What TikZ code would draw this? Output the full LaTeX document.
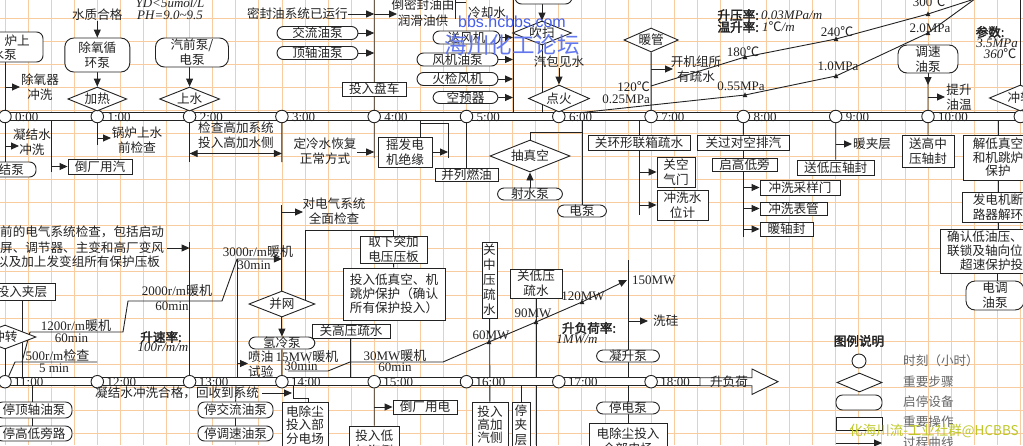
\documentclass[tikz,border=0pt]{standalone}
\usepackage{fontspec}
\setmainfont{Liberation Serif}
\newfontfamily\cjk{Noto Sans CJK SC}
\newfontfamily\hei[FakeBold=2.5]{Noto Sans CJK SC}
\newfontfamily\wsans{Liberation Sans}
\usetikzlibrary{arrows.meta,shapes.geometric,backgrounds}
\definecolor{gridc}{RGB}{248,204,158}
\definecolor{ink}{RGB}{35,35,35}
\definecolor{wm}{RGB}{70,95,235}
\definecolor{wmy}{RGB}{190,200,40}
\newcommand{\fsz}{\fontsize{12.6}{15}\selectfont}
\newcommand{\tmf}{\rmfamily\fontsize{13}{15}\selectfont}
\newcommand{\mkr}[2]{\fill[ink] (#1-2.3,#2+2) -- (#1+2.3,#2+2) -- (#1,#2-2.6) -- cycle;}
\begin{document}
\begin{tikzpicture}[x=1pt,y=-1pt,
 ln/.style={line width=0.9pt, draw=ink},
 arr/.style={line width=0.9pt, draw=ink, -{Triangle[length=8pt,width=7pt]}},
 darr/.style={line width=0.9pt, draw=ink, {Triangle[length=8pt,width=7pt]}-{Triangle[length=8pt,width=7pt]}},
 txt/.style={inner sep=0pt, font=\cjk\fsz, align=center, text=ink},
 box/.style={txt, line width=0.9pt, draw=ink, fill=white},
 rbox/.style={box, rounded corners=6.5pt},
 dia/.style={box, diamond, shape aspect=2.5},
 tc/.style={circle, line width=0.9pt, draw=ink, fill=white, minimum size=12.5pt, inner sep=0pt},
 tl/.style={inner sep=0pt, font=\tmf, text=ink, anchor=base west},
 lat/.style={inner sep=0pt, font=\tmf, text=ink},
 ita/.style={inner sep=0pt, font=\tmf\itshape, text=ink},
 bld/.style={inner sep=0pt, font=\hei\fsz, text=ink},
 lgt/.style={txt, anchor=west, text=black!60}
]
\useasboundingbox (0,0) rectangle (1023,445);
\clip (0,0) rectangle (1023,445);
\begin{scope}[on background layer]
\fill[white] (0,0) rectangle (1023,445);
\foreach \k in {0,...,44} \draw[gridc, line width=0.8pt] ({5+23.075*\k},0) -- ({5+23.075*\k},445);
\foreach \k in {0,...,19} \draw[gridc, line width=0.8pt] (0,{18+23.075*\k}) -- (1023,{18+23.075*\k});
\end{scope}

% ---------- axes ----------
\fill[white] (-5,112.5) rectangle (1030,120.5);
\draw[ln] (-5,112.5) -- (1030,112.5) (-5,120.5) -- (1030,120.5);
\foreach \h in {0,...,11} \node[tc] (t\h) at ({5+92.3*\h},116.5) {};
\foreach \h in {0,...,10} \node[tl] at ({15+92.3*\h},121.3) {\h:00};

\fill[white] (-5,377.7) rectangle (700,385.7);
\draw[ln] (-5,377.7) -- (700,377.7) (-5,385.7) -- (700,385.7);
\draw[ln, fill=white] (700,377.7) -- (752,377.7) -- (752,369) -- (778,381.7) -- (752,394.4) -- (752,385.7) -- (700,385.7) -- cycle;
\node[txt] (sfh) at (729,381.7) {升负荷};
\foreach \h/\k in {11/0,12/1,13/2,14/3,15/4,16/5,17/6,18/7} \node[tc] (b\h) at ({5+92.3*\k},381.7) {};
\foreach \h/\k in {11/0,12/1,13/2,14/3,15/4,16/5,17/6,18/7} \node[tl] at ({14+92.3*\k},386.5) {\h:00};

% ---------- top section ----------
\node[rbox, minimum width=83pt, minimum height=30pt] (lsb) at (1.5,47) {};
\node[txt, anchor=east] (lsbt1) at (30,41) {炉上};
\node[txt, anchor=east] (lsbt2) at (17,55) {水泵};
\node[txt] (cyq) at (40,87) {除氧器\\冲洗};

\node[txt] (szhg) at (97.3,15) {水质合格};
\node[rbox, minimum width=65pt, minimum height=34pt, rounded corners=9pt] (cyxh) at (97.3,55) {除氧循\\环泵};
\node[dia, minimum width=59pt, minimum height=24pt] (jr) at (97.3,99) {加热};
\node[ita] (yd) at (170,3) {YD<5umol/L};
\node[ita] (ph) at (170,15) {PH=9.0\textasciitilde 9.5};
\node[rbox, minimum width=73pt, minimum height=29pt, rounded corners=9pt] (qqb) at (192,52.5) {汽前泵/\\电泵};
\node[dia, minimum width=60pt, minimum height=24pt] (ss) at (189.6,99) {上水};

\node[txt, anchor=east] (mfy) at (348,14) {密封油系统已运行};
\node[txt, font=\cjk\fontsize{12.6}{16}\selectfont] (dmf) at (423,13) {倒密封油由\\润滑油供};
\node[rbox, minimum width=81pt, minimum height=13pt] (jlyb) at (317.5,33) {交流油泵};
\node[rbox, minimum width=81pt, minimum height=13pt] (dzyb) at (317.5,53) {顶轴油泵};
\node[box, minimum width=64pt, minimum height=14pt] (trpc) at (374.2,89) {投入盘车};
\node[txt, anchor=west] (lqs) at (468,13) {冷却水};

\node[rbox, minimum width=67pt, minimum height=13pt] (sfj) at (466.5,37.5) {送风机};
\node[rbox, minimum width=81pt, minimum height=13pt] (fjyb) at (457.5,59.5) {风机油泵};
\node[rbox, minimum width=81pt, minimum height=13pt] (hjfj) at (457.5,79) {火检风机};
\node[rbox, minimum width=65pt, minimum height=12pt] (kyq) at (465.5,97.5) {空预器};
\node[rbox, minimum width=57pt, minimum height=14pt] (topb) at (543.5,-3) {};
\node[dia, minimum width=59pt, minimum height=24pt] (cs) at (542,33) {吹扫};
\node[txt] (qbjs) at (559,62) {汽包见水};
\node[dia, minimum width=61pt, minimum height=27pt] (dh) at (559,98.5) {点火};

\node[dia, minimum width=54pt, minimum height=24pt] (ng) at (651.1,40) {暖管};
\node[txt] (kjz) at (696,69) {开机组所\\有疏水};

\node[lat, anchor=east] (l120) at (650,87) {120{\cjk ℃}};
\node[lat, anchor=east] (l025) at (650,99.5) {0.25MPa};
\node[lat] (l180) at (743,52) {180{\cjk ℃}};
\node[lat] (l055) at (741,86) {0.55MPa};
\node[lat] (l240) at (837,32) {240{\cjk ℃}};
\node[lat] (l10) at (838,66) {1.0MPa};
\node[lat] (l300) at (929,2) {300{\cjk ℃}};
\node[lat] (l20) at (930,28) {2.0MPa};

\node[bld, anchor=east] (syl) at (759,15) {升压率:};
\node[ita, anchor=west] (syv) at (761,15) {0.03MPa/m};
\node[bld, anchor=east] (wsl) at (759,27) {温升率:};
\node[ita, anchor=west] (wsv) at (762,27) {1{\cjk ℃}/m};

\node[rbox, minimum width=60pt, minimum height=28pt, rounded corners=9pt] (tsyb) at (928,59) {调速\\油泵};
\node[txt] (tsyw) at (959,97) {提升\\油温};
\node[bld] (cshu) at (990,32) {参数:};
\node[ita] (c35) at (997,43) {3.5MPa};
\node[ita] (c360) at (1000,54) {360{\cjk ℃}};
\node[dia, minimum width=62pt, minimum height=26pt] (cz1) at (1020.3,98) {冲转};

% ---------- below top axis ----------
\node[rbox, minimum width=62pt, minimum height=15pt] (njb) at (5,169.5) {凝结泵};
\node[txt] (njs) at (32,142) {凝结水\\冲洗};
\node[box, minimum width=64pt, minimum height=15pt] (dcyq) at (100,166.5) {倒厂用汽};
\node[txt] (glss) at (137,140) {锅炉上水\\前检查};
\node[txt] (jcgj) at (236,135) {检查高加系统\\投入高加水侧};
\node[txt] (dls) at (325,151.5) {定冷水恢复\\正常方式};
\node[box, minimum width=54pt, minimum height=30pt] (ydj) at (405,152) {摇发电\\机绝缘};
\node[box, minimum width=63pt, minimum height=13pt] (blry) at (466.5,174.5) {并列燃油};
\node[dia, minimum width=80pt, minimum height=32pt] (czk) at (530,156) {抽真空};
\node[rbox, minimum width=65pt, minimum height=12pt] (ssb) at (530,194) {射水泵};
\node[rbox, minimum width=49pt, minimum height=12pt] (dbx) at (582,211) {电泵};
\node[box, minimum width=102pt, minimum height=15pt] (ghx) at (639,142.5) {关环形联箱疏水};
\node[box, minimum width=38pt, minimum height=30pt] (gkq) at (676,172) {关空\\气门};
\node[box, minimum width=51pt, minimum height=30pt] (cxs) at (682.5,205) {冲洗水\\位计};
\node[box, minimum width=92pt, minimum height=15pt] (ggd) at (743.4,142.5) {关过对空排汽};
\node[box, minimum width=65pt, minimum height=13pt] (qgd) at (744.5,164.5) {启高低旁};
\node[box, minimum width=80pt, minimum height=15pt] (cxc) at (800,187.5) {冲洗采样门};
\node[box, minimum width=67pt, minimum height=13pt] (cxb) at (793.5,208.5) {冲洗表管};
\node[box, minimum width=53pt, minimum height=14pt] (nzf) at (786.5,229) {暖轴封};
\node[txt, anchor=west] (njc) at (853,144) {暖夹层};
\node[box, minimum width=77pt, minimum height=15pt] (sdy) at (835.7,167.5) {送低压轴封};
\node[box, minimum width=52pt, minimum height=32pt] (sgz) at (928,151) {送高中\\压轴封};
\node[box, minimum width=70pt, minimum height=45pt, font=\cjk\fontsize{12.6}{13.5}\selectfont] (jdz) at (998,157.5) {解低真空\\和机跳炉\\保护};
\node[box, minimum width=71pt, minimum height=30pt] (fdjd) at (998,207) {发电机断\\路器解环};
\node[box, minimum width=116pt, minimum height=44pt] (qrd) at (998,251) {};
\node[txt, anchor=west] (qrd1) at (947,237) {确认低油压、};
\node[txt, anchor=west] (qrd2) at (947,251) {联锁及轴向位};
\node[txt, anchor=west] (qrd3) at (960,265) {超速保护投};
\node[rbox, minimum width=58pt, minimum height=29pt, rounded corners=9pt] (dtyb) at (995,295.5) {电调\\油泵};

% ---------- middle section ----------
\node[txt, anchor=west] (lt1) at (0,232) {前的电气系统检查，包括启动};
\node[txt, anchor=west] (lt2) at (0,248) {屏、调节器、主变和高厂变风};
\node[txt, anchor=west] (lt3) at (-4,262) {以及加上发变组所有保护压板};
\node[box, minimum width=66pt, minimum height=17pt] (trjc) at (22,291.5) {投入夹层};
\node[dia, minimum width=62pt, minimum height=24pt] (cz2) at (5,337) {冲转};

\node[lat] (s500) at (57.5,356) {500r/m{\cjk 检查}};
\node[lat] (s5) at (54,368) {5 min};
\node[lat] (s1200) at (76,326) {1200r/m{\cjk 暖机}};
\node[lat] (s60a) at (71.5,338.5) {60min};
\node[lat] (s2000) at (177,291) {2000r/m{\cjk 暖机}};
\node[lat] (s60b) at (172,306) {60min};
\node[lat] (s3000) at (258,252) {3000r/m{\cjk 暖机}};
\node[lat] (s30) at (254,265) {30min};
\node[bld] (ssl) at (161,337) {升速率:};
\node[ita] (ssv) at (163,347.5) {100r/m/m};

\node[txt] (ddq) at (334,211.5) {对电气系统\\全面检查};
\node[dia, minimum width=66pt, minimum height=26pt] (bw) at (281.9,304) {并网};
\node[rbox, minimum width=66pt, minimum height=12pt] (qlb) at (281.9,343) {氢冷泵};
\node[txt, anchor=west] (pys) at (248,364) {喷油\\试验};
\node[box, minimum width=67pt, minimum height=27pt] (qxt) at (393.5,249.5) {取下突加\\电压压板};
\node[box, minimum width=102pt, minimum height=52pt, font=\cjk\fontsize{12.6}{14}\selectfont] (trdz) at (394,294) {投入低真空、机\\跳炉保护（确认\\所有保护投入）};
\node[box, minimum width=78pt, minimum height=14pt] (ggy) at (351,331) {关高压疏水};

\node[lat] (m15) at (307,357) {15MW{\cjk 暖机}};
\node[lat] (m30a) at (301,366) {30min};
\node[lat] (m30) at (395,356) {30MW{\cjk 暖机}};
\node[lat] (m60a) at (395,367) {60min};
\node[lat] (m60) at (491,335) {60MW};
\node[lat] (m90) at (533,313) {90MW};
\node[lat] (m120) at (583,296) {120MW};
\node[lat, anchor=west] (m150) at (632,280) {150MW};

\node[box, minimum width=15pt, minimum height=76pt, font=\cjk\fontsize{12.6}{15}\selectfont] (gzy) at (489.5,280) {关\\中\\压\\疏\\水};
\node[box, minimum width=52pt, minimum height=29pt] (gdy) at (536,283.5) {关低压\\疏水};
\node[txt, anchor=west] (xg) at (653,321) {洗硅};
\node[rbox, minimum width=63pt, minimum height=12pt] (nsb) at (628,356) {凝升泵};
\node[bld] (sfhl) at (589,328) {升负荷率:};
\node[ita] (sfhv) at (577,339) {1MW/m};

% ---------- bottom section ----------
\node[rbox, minimum width=76pt, minimum height=16pt] (tdz) at (34,410) {停顶轴油泵};
\node[rbox, minimum width=76pt, minimum height=15pt] (tgd) at (34,433.5) {停高低旁路};
\node[txt, anchor=west] (njhg) at (95,393) {凝结水冲洗合格，回收到系统};
\node[rbox, minimum width=75pt, minimum height=16pt] (tjl) at (235.5,410) {停交流油泵};
\node[rbox, minimum width=75pt, minimum height=15pt] (tts) at (235.5,433.5) {停调速油泵};
\node[box, minimum width=46pt, minimum height=46pt, font=\cjk\fontsize{12.6}{13.5}\selectfont] (dcb) at (305,425) {电除尘\\投入部\\分电场};
\node[box, minimum width=64pt, minimum height=14pt] (dcy) at (425,407) {倒厂用电};
\node[box, minimum width=50pt, minimum height=34pt] (trdj) at (374.2,443) {投入低\\加汽侧};
\node[box, minimum width=36pt, minimum height=46pt, font=\cjk\fontsize{12.6}{13}\selectfont] (trgj) at (490,425) {投入\\高加\\汽侧};
\node[box, minimum width=18pt, minimum height=46pt, font=\cjk\fontsize{12.6}{14.5}\selectfont] (tjc) at (521,425) {停\\夹\\层};
\node[rbox, minimum width=63pt, minimum height=12pt] (tdb) at (628,408) {停电泵};
\node[box, minimum width=78pt, minimum height=37pt] (dcq) at (628,441.5) {电除尘投入\\全部电场};

% ---------- legend ----------
\node[bld] (lgh) at (859,341) {图例说明};
\node[tc, minimum size=14pt] (lg1) at (859,361) {};
\node[dia, minimum width=45pt, minimum height=19pt] (lg2) at (859.5,382.5) {};
\node[rbox, minimum width=46pt, minimum height=15pt] (lg3) at (859,402.5) {};
\node[box, minimum width=46pt, minimum height=13pt] (lg4) at (859,423.5) {};
\coordinate (lg5a) at (836,443);
\coordinate (lg5b) at (882,443);
\node[lgt] (lgt1) at (903,361) {时刻（小时）};
\node[lgt] (lgt2) at (903,382) {重要步骤};
\node[lgt] (lgt3) at (903,402) {启停设备};
\node[lgt] (lgt4) at (903,422) {重要操作};
\node[lgt] (lgt5) at (903,443) {过程曲线};

% ---------- watermarks ----------
\node[inner sep=0pt, font=\wsans\fontsize{16}{16}\selectfont, text=wm] (wm1) at (512,22) {bbs.hcbbs.com};
\node[inner sep=0pt, font=\cjk\fontsize{22.5}{23}\selectfont, text=wm!85] (wm2) at (512,45) {海川化工论坛};
\node[inner sep=0pt, font=\cjk\fontsize{13.5}{14}\selectfont, text=wmy] (wm3) at (934,431) {化海川流-工业社群@HCBBS};

% ---------- connectors ----------
\begin{scope}[on background layer]
\draw[ln] (t0 |- lsb.south) -- (t0.north);
\draw[arr] (5,87) -- (20,87);
\draw[arr] (szhg) -- (cyxh);
\draw[arr] (cyxh) -- (jr);
\draw[ln] (jr) -- (t1);
\draw[arr] (qqb.south -| ss) -- (ss.north);
\draw[ln] (ss) -- (t2);
\draw[arr] (mfy.east) -- (374.2,14);
\draw[arr] (374.2,14) -- (397,14);
\draw[ln] (374.2,0) -- (t4.north);
\draw[arr] (jlyb.east) -- (374.2,33);
\draw[arr] (dzyb.east) -- (374.2,53);
\draw[ln] (455,-2) -- (455,19);
\draw[ln] (455,2) -- (466,2);
\draw[arr] (sfj.east) -- (513,37.5);
\draw[arr] (fjyb.east) -- (513,59.5);
\draw[arr] (hjfj.east) -- (513,79);
\draw[arr] (kyq.east) -- (513,97.5);
\draw[ln] (513,0) -- (513,112.5);
\draw[arr] (topb.south -| cs) -- (cs.north);
\draw[ln] (cs.south) -- (542,112.5);
\draw[arr] (qbjs) -- (dh);
\draw[ln] (ng) -- (t7);
\draw[arr] (651.1,69) -- (673,69);
\draw[ln] (582,112.5) -- (745,95) -- (836,76) -- (928,33) -- (990,-12);
\draw[ln] (651,86) -- (745,57) -- (836,39) -- (928,14) -- (990,-6);
\mkr{745}{57} \mkr{745}{95} \mkr{836}{39} \mkr{836}{76} \mkr{928}{14} \mkr{928}{33}
\draw[arr] (tsyb) -- (928,85);
\draw[ln] (928,84) -- (t10);
\draw[arr] (928,97) -- (945,97);
\draw[ln] (1020.3,0) -- (cz1.north);

\draw[ln] (t0) -- (njb);
\draw[arr] (5,146) -- (19,146);
\draw[ln] (51,120.5) -- (51,172);
\draw[arr] (51,166.5) -- (dcyq.west);
\draw[ln] (t1) -- (97.3,145);
\draw[arr] (97.3,138) -- (111,138);
\draw[ln] (t2) -- (189.6,162);
\draw[darr] (189.6,153.5) -- (281.9,153.5);
\draw[ln] (t3) -- (281.9,162);
\draw[arr] (357,152) -- (374.2,152);
\draw[ln] (t4) -- (374.2,158);
\draw[ln] (420,120.5) -- (420,137);
\draw[ln] (420,123) -- (448,123) -- (448,158);
\draw[arr] (ydj.east) -- (448,152);
\draw[ln] (t5) -- (blry);
\draw[ln] (582,120.5) -- (dbx.north);
\draw[ln] (582,132) -- (530,132) -- (czk.north);
\draw[arr] (ssb) -- (czk);
\draw[ln] (639,120.5) -- (ghx);
\draw[ln] (ghx) -- (639,215);
\draw[arr] (639,172) -- (gkq.west);
\draw[arr] (639,205) -- (cxs.west);
\draw[ln] (t8) -- (ggd);
\draw[ln] (ggd.south) -- (743.4,158);
\draw[ln] (743.4,171) -- (743.4,237);
\draw[arr] (743.4,187.5) -- (cxc.west);
\draw[arr] (743.4,208.5) -- (cxb.west);
\draw[arr] (743.4,229) -- (nzf.west);
\draw[ln] (t9) -- (sdy);
\draw[arr] (835.7,144) -- (852,144);
\draw[ln] (t10) -- (sgz);
\draw[ln] (998,120.5) -- (jdz);
\draw[ln] (jdz) -- (fdjd);
\draw[ln] (fdjd) -- (qrd);
\draw[ln] (997,273) -- (997,281);

\draw[arr] (167,248) -- (189.6,248);
\draw[ln] (189.6,242) -- (b13.north);
\draw[ln] (trjc.south) -- (22,377.7);
\draw[ln] (cz2) -- (b11);
\draw[ln] (8,377.7) -- (15,362) -- (97,362);
\draw[arr] (22,362) -- (30,332) -- (123,332) -- (128,301) -- (222,301) -- (237,259) -- (281.9,259);
\draw[ln] (281.9,205) -- (bw.north);
\draw[arr] (281.9,212) -- (303,212);
\draw[arr] (bw) -- (qlb);
\draw[ln] (qlb) -- (b14);
\draw[ln] (237,259) -- (237,377.7);
\draw[arr] (237,363.5) -- (248,363.5);
\draw[ln] (305,300) -- (305,230) -- (393.5,230) -- (qxt.north);
\draw[ln] (qxt) -- (trdz);
\draw[ln] (350,338) -- (350,377.7);
\draw[arr] (288,371) -- (328,371) -- (350,362) -- (443,362) -- (489,342) -- (536,322) -- (582,302) -- (627,280);
\mkr{489}{342} \mkr{536}{322} \mkr{582}{302}
\draw[ln] (gzy) -- (trgj);
\draw[ln] (gdy) -- (536,450);
\draw[ln] (628,260) -- (nsb);
\draw[arr] (628,321) -- (648,321);
\draw[ln] (nsb) -- (tdb);
\draw[ln] (tdb) -- (dcq);

\draw[ln] (32,385.7) -- (32,402);
\draw[ln] (32,418) -- (32,426);
\draw[arr] (262,393) -- (292,393);
\draw[ln] (236,385.7) -- (tjl);
\draw[ln] (tjl) -- (tts);
\draw[ln] (293,385.7) -- (293,398) -- (308,398) -- (dcb.north -| 308,0);
\draw[ln] (b15) -- (trdj);
\draw[arr] (374.2,407) -- (dcy.west);
\draw[ln] (521,385.7) -- (tjc);
\draw[arr] (lg5a) -- (lg5b);
\end{scope}
\end{tikzpicture}
\end{document}
